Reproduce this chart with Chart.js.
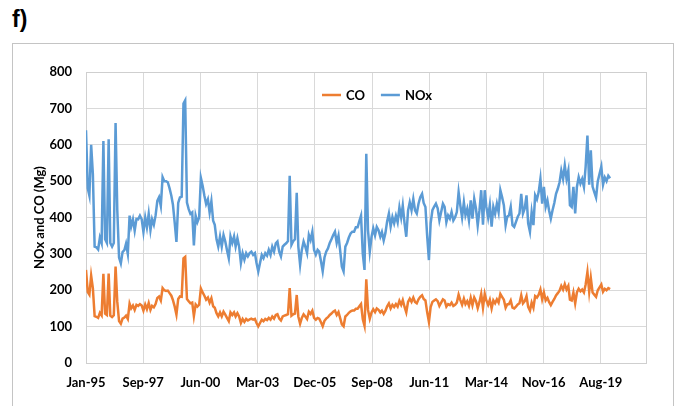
<!DOCTYPE html>
<html>
<head>
<meta charset="utf-8">
<script src="https://cdn.jsdelivr.net/npm/chart.js@4.4.1/dist/chart.umd.min.js"></script>
<style>
  html, body { margin: 0; padding: 0; background: #ffffff; }
  body { width: 678px; height: 406px; position: relative; overflow: hidden; }
  #label { position: absolute; left: 12px; top: 6px; font: bold 23px "Liberation Sans Narrow", "Liberation Sans", Arial, sans-serif; color: #000; }
  #frame { position: absolute; left: 12px; top: 43px; width: 662px; height: 400px; border: 1px solid #c4c4c4; box-sizing: border-box; }
  #c { position: absolute; left: 0; top: 0; }
</style>
</head>
<body>
<div id="label">f)</div>
<div id="frame"></div>
<canvas id="c" width="678" height="406"></canvas>
<script>
// ---- data (monthly, Jan-1995 onwards) ----
const startYear = 1995;
const tickLabels = ['Jan-95','Sep-97','Jun-00','Mar-03','Dec-05','Sep-08','Jun-11','Mar-14','Nov-16','Aug-19'];
const seriesNames = ['CO', 'NOx'];

const nox = [
  640, 480, 460, 600, 520, 320, 318, 312, 345, 330, 610, 340,   // 1995
  330, 615, 330, 320, 330, 660, 420, 290, 274, 305, 310, 328,   // 1996
  300, 405, 375, 395, 364, 396, 395, 405, 395, 360, 400, 373,   // 1997
  410, 365, 395, 380, 405, 446, 456, 432, 511, 500, 500, 497,   // 1998
  480, 460, 435, 385, 333, 440, 455, 457, 713, 722, 441, 423,   // 1999
  410, 414, 323, 405, 387, 400, 509, 487, 460, 437, 450, 414,   // 2000
  445, 391, 380, 340, 320, 348, 320, 352, 334, 310, 288, 348,   // 2001
  330, 348, 320, 343, 320, 275, 302, 284, 302, 293, 302, 306,   // 2002
  297, 302, 275, 252, 275, 297, 288, 302, 295, 311, 297, 320,   // 2003
  306, 329, 334, 306, 293, 320, 325, 329, 335, 515, 325, 335,   // 2004
  340, 468, 320, 270, 311, 334, 320, 302, 352, 338, 361, 311,   // 2005
  298, 311, 306, 280, 252, 290, 306, 315, 330, 340, 352, 361,   // 2006
  330, 350, 311, 265, 252, 320, 330, 345, 356, 361, 361, 373,   // 2007
  373, 390, 405, 300, 256, 575, 365, 306, 347, 370, 351, 374,   // 2008
  365, 347, 360, 337, 357, 390, 411, 375, 401, 384, 405, 387,   // 2009
  428, 400, 433, 384, 347, 419, 442, 420, 451, 420, 411, 438,   // 2010
  456, 465, 440, 429, 350, 283, 384, 420, 430, 438, 425, 392,   // 2011
  415, 438, 429, 387, 406, 397, 415, 392, 401, 415, 470, 433,   // 2012
  400, 442, 406, 424, 392, 447, 397, 451, 424, 378, 420, 475,   // 2013
  380, 475, 429, 400, 434, 375, 429, 410, 438, 415, 475, 456,   // 2014
  434, 379, 402, 406, 429, 379, 374, 388, 402, 411, 465, 411,   // 2015
  425, 461, 384, 361, 415, 379, 461, 450, 470, 506, 438, 484,   // 2016
  429, 447, 420, 397, 420, 440, 465, 479, 497, 529, 506, 543,   // 2017
  506, 529, 434, 429, 484, 411, 484, 511, 493, 506, 484, 540,   // 2018
  625, 490, 585, 485, 470, 455, 500, 520, 540, 490, 510, 500,   // 2019
  515, 508                                                      // 2020
];

const co = [
  256, 195, 188, 240, 206, 129, 127, 124, 138, 131, 245, 136,   // 1995
  132, 246, 130, 126, 131, 265, 168, 115, 108, 122, 125, 130,   // 1996
  121, 163, 150, 158, 146, 160, 157, 162, 158, 144, 161, 148,   // 1997
  165, 146, 157, 153, 162, 179, 183, 172, 206, 200, 198, 199,   // 1998
  192, 185, 173, 155, 133, 176, 183, 182, 288, 292, 176, 170,   // 1999
  164, 166, 129, 161, 155, 160, 205, 194, 185, 174, 180, 166,   // 2000
  178, 156, 152, 137, 128, 139, 128, 141, 133, 124, 115, 139,   // 2001
  132, 139, 128, 137, 128, 110, 121, 113, 121, 117, 120, 122,   // 2002
  119, 121, 110, 101, 110, 119, 115, 121, 118, 124, 119, 128,   // 2003
  122, 132, 134, 122, 117, 128, 130, 132, 134, 206, 130, 134,   // 2004
  136, 187, 128, 108, 124, 134, 128, 121, 141, 135, 144, 124,   // 2005
  119, 124, 122, 112, 101, 116, 122, 126, 132, 136, 141, 144,   // 2006
  132, 140, 124, 106, 101, 128, 132, 138, 142, 144, 144, 149,   // 2007
  149, 156, 162, 120, 102, 230, 146, 122, 139, 148, 140, 150,   // 2008
  146, 139, 144, 135, 143, 156, 164, 150, 160, 154, 162, 155,   // 2009
  171, 160, 173, 154, 139, 168, 177, 168, 180, 168, 164, 175,   // 2010
  182, 186, 176, 172, 140, 113, 154, 168, 172, 175, 170, 157,   // 2011
  166, 175, 172, 155, 162, 159, 166, 157, 160, 166, 188, 173,   // 2012
  160, 177, 162, 170, 157, 179, 159, 180, 170, 151, 168, 190,   // 2013
  152, 190, 172, 160, 174, 150, 172, 164, 175, 166, 190, 182,   // 2014
  174, 152, 161, 162, 172, 152, 150, 155, 161, 164, 186, 164,   // 2015
  170, 184, 154, 144, 166, 152, 184, 180, 188, 202, 175, 194,   // 2016
  172, 179, 168, 159, 168, 176, 186, 192, 199, 212, 202, 217,   // 2017
  202, 212, 174, 172, 194, 164, 194, 204, 197, 202, 194, 216,   // 2018
  250, 196, 234, 194, 188, 182, 200, 208, 216, 196, 204, 200,   // 2019
  206, 203                                                      // 2020
];

// ---- helpers ----
const DAY = 86400000;
const origin = Date.UTC(startYear, 0, 1);
function dayOf(i) {
  return (Date.UTC(startYear + Math.floor(i / 12), i % 12, 1) - origin) / DAY;
}
const toPoints = arr => arr.map((v, i) => ({ x: dayOf(i), y: v }));

const FONT = 'Lato, "Open Sans", "Liberation Sans", sans-serif';
const COLORS = { CO: '#ED7D31', NOx: '#5B9BD5' };

const frameBorder = {
  id: 'frameBorder',
  beforeDatasetsDraw(chart) {
    const a = chart.chartArea, ctx = chart.ctx;
    ctx.save();
    ctx.strokeStyle = '#cfcfcf';
    ctx.lineWidth = 1;
    ctx.strokeRect(Math.round(a.left) + 0.5, Math.round(a.top) + 0.5,
                   Math.round(a.right - a.left), Math.round(a.bottom - a.top));
    ctx.restore();
  }
};

const innerLegend = {
  id: 'innerLegend',
  afterDraw(chart) {
    const a = chart.chartArea, ctx = chart.ctx;
    ctx.save();
    ctx.font = 'bold 13px ' + FONT;
    ctx.textBaseline = 'middle';
    const lineLen = 19, gapLT = 5, gapItems = 16;
    const items = chart.data.datasets.map(d => ({ text: d.label, color: d.borderColor, w: ctx.measureText(d.label).width }));
    let total = 0;
    items.forEach((it, k) => { total += lineLen + gapLT + it.w + (k < items.length - 1 ? gapItems : 0); });
    let x = (a.left + a.right) / 2 + 11 - total / 2;
    const y = a.top + 23;
    items.forEach(it => {
      ctx.strokeStyle = it.color;
      ctx.lineWidth = 2.5;
      ctx.beginPath();
      ctx.moveTo(x, y); ctx.lineTo(x + lineLen, y);
      ctx.stroke();
      x += lineLen + gapLT;
      ctx.fillStyle = '#000';
      ctx.fillText(it.text, x, y + 1);
      x += it.w + gapItems;
    });
    ctx.restore();
  }
};

new Chart(document.getElementById('c'), {
  type: 'line',
  data: {
    datasets: [
      { label: seriesNames[0], data: toPoints(co), borderColor: COLORS.CO, backgroundColor: COLORS.CO,
        borderWidth: 2.5, pointRadius: 0, tension: 0, fill: false },
      { label: seriesNames[1], data: toPoints(nox), borderColor: COLORS.NOx, backgroundColor: COLORS.NOx,
        borderWidth: 2.5, pointRadius: 0, tension: 0, fill: false }
    ]
  },
  options: {
    responsive: false,
    animation: false,
    devicePixelRatio: 1,
    layout: { padding: { left: 32, top: 72, right: 32, bottom: 0 } },
    plugins: { legend: { display: false }, tooltip: { enabled: false } },
    scales: {
      x: {
        type: 'linear',
        min: 0,
        max: 9790,
        afterBuildTicks: s => { s.ticks = tickLabels.map((_, k) => ({ value: k * 1000 })); },
        afterFit: s => { s.height = 43; },
        grid: { color: '#d9d9d9', lineWidth: 1, drawTicks: false },
        border: { display: false },
        ticks: {
          autoSkip: false, maxRotation: 0, padding: 12, color: '#000',
          font: { family: FONT, size: 13, weight: 'bold' },
          callback: v => tickLabels[Math.round(v / 1000)]
        }
      },
      y: {
        min: 0,
        max: 800,
        afterFit: s => { s.width = 54; },
        grid: { color: '#d9d9d9', lineWidth: 1, drawTicks: false },
        border: { display: false },
        ticks: { stepSize: 100, padding: 14, color: '#000', font: { family: FONT, size: 13, weight: 'bold' } },
        title: { display: true, text: 'NOx and CO (Mg)', color: '#000', padding: { top: 0, bottom: 0 },
                 font: { family: FONT, size: 13, weight: 'bold' } }
      }
    }
  },
  plugins: [frameBorder, innerLegend]
});
</script>
</body>
</html>
